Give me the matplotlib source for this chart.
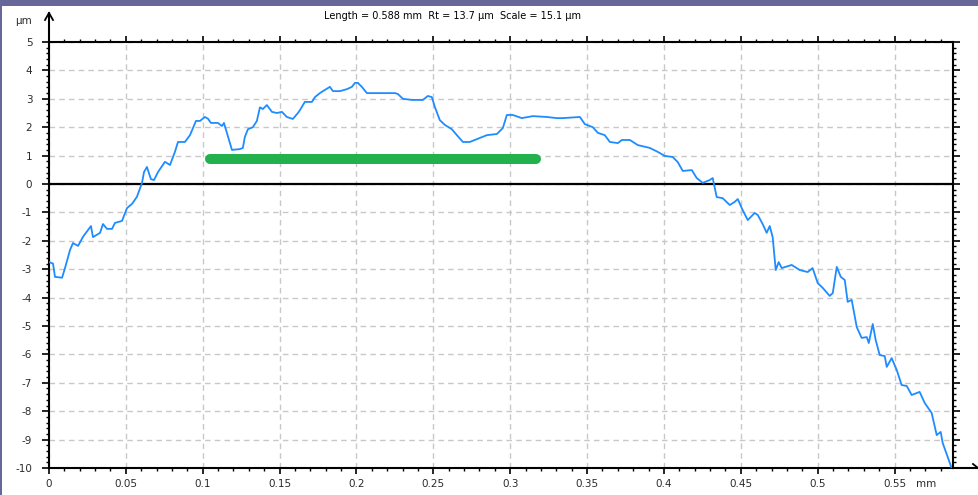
import numpy as np
import matplotlib
matplotlib.use("Agg")
import matplotlib.pyplot as plt
from matplotlib.ticker import MultipleLocator
from matplotlib.patches import Rectangle

plt.rcParams["axes.unicode_minus"] = False

# Profile (x in mm, height in um)
profile_x = [
    0.0000, 0.0026, 0.0039, 0.0085, 0.0104, 0.0137, 0.0156, 0.0189, 0.0221, 0.0254,
    0.0273, 0.0286, 0.0332, 0.0351, 0.0377, 0.0410, 0.0429, 0.0475, 0.0507, 0.0540,
    0.0572, 0.0605, 0.0618, 0.0637, 0.0663, 0.0683, 0.0709, 0.0754, 0.0787, 0.0819,
    0.0839, 0.0884, 0.0917, 0.0956, 0.0982, 0.1014, 0.1034, 0.1053, 0.1099, 0.1125,
    0.1138, 0.1157, 0.1177, 0.1190, 0.1242, 0.1261, 0.1274, 0.1294, 0.1326, 0.1352,
    0.1372, 0.1391, 0.1417, 0.1450, 0.1482, 0.1515, 0.1547, 0.1586, 0.1619, 0.1632,
    0.1664, 0.1710, 0.1730, 0.1762, 0.1782, 0.1827, 0.1847, 0.1892, 0.1938, 0.1970,
    0.1990, 0.2009, 0.2035, 0.2068, 0.2250, 0.2269, 0.2302, 0.2360, 0.2432, 0.2464,
    0.2490, 0.2510, 0.2542, 0.2575, 0.2620, 0.2653, 0.2692, 0.2737, 0.2802, 0.2848,
    0.2913, 0.2952, 0.2978, 0.3017, 0.3075, 0.3147, 0.3238, 0.3303, 0.3342, 0.3453,
    0.3485, 0.3537, 0.3570, 0.3615, 0.3648, 0.3700, 0.3726, 0.3778, 0.3830, 0.3908,
    0.3960, 0.4005, 0.4057, 0.4090, 0.4122, 0.4181, 0.4213, 0.4252, 0.4298, 0.4317,
    0.4343, 0.4382, 0.4428, 0.4460, 0.4480, 0.4512, 0.4545, 0.4590, 0.4610, 0.4642,
    0.4668, 0.4688, 0.4707, 0.4727, 0.4746, 0.4766, 0.4831, 0.4883, 0.4935, 0.4967,
    0.5000, 0.5033, 0.5078, 0.5098, 0.5124, 0.5150, 0.5176, 0.5195, 0.5221, 0.5254,
    0.5286, 0.5319, 0.5332, 0.5358, 0.5377, 0.5403, 0.5436, 0.5449, 0.5481, 0.5514,
    0.5546, 0.5579, 0.5611, 0.5663, 0.5696, 0.5741, 0.5774, 0.5800, 0.5813, 0.5871,
]
profile_z = [
    -2.75, -2.80, -3.27, -3.30, -2.96, -2.32, -2.08, -2.18, -1.86, -1.62,
    -1.48, -1.87, -1.72, -1.41, -1.58, -1.58, -1.37, -1.30, -0.85, -0.70,
    -0.45, 0.04, 0.42, 0.60, 0.17, 0.14, 0.42, 0.78, 0.67, 1.13,
    1.48, 1.48, 1.72, 2.22, 2.22, 2.36, 2.30, 2.15, 2.15, 2.04,
    2.15, 1.80, 1.44, 1.20, 1.23, 1.27, 1.66, 1.93, 2.00, 2.22,
    2.70, 2.64, 2.78, 2.54, 2.50, 2.54, 2.36, 2.29, 2.50, 2.60,
    2.89, 2.89, 3.06, 3.20, 3.27, 3.42, 3.27, 3.27, 3.34, 3.42,
    3.56, 3.56, 3.42, 3.20, 3.20, 3.17, 3.00, 2.96, 2.96, 3.10,
    3.06, 2.71, 2.25, 2.08, 1.93, 1.72, 1.48, 1.48, 1.62, 1.72,
    1.76, 1.97, 2.43, 2.43, 2.32, 2.39, 2.36, 2.32, 2.32, 2.36,
    2.11, 2.00, 1.80, 1.72, 1.48, 1.44, 1.55, 1.55, 1.37, 1.27,
    1.13, 0.99, 0.95, 0.77, 0.46, 0.49, 0.21, 0.04, 0.14, 0.21,
    -0.46, -0.50, -0.74, -0.63, -0.53, -0.92, -1.27, -1.02, -1.09, -1.41,
    -1.72, -1.48, -1.87, -3.03, -2.75, -2.96, -2.85, -3.03, -3.10, -2.96,
    -3.49, -3.66, -3.94, -3.84, -2.92, -3.27, -3.38, -4.15, -4.08, -5.04,
    -5.42, -5.39, -5.60, -4.93, -5.49, -6.02, -6.06, -6.44, -6.13, -6.55,
    -7.08, -7.11, -7.43, -7.32, -7.71, -8.06, -8.84, -8.73, -9.12, -10.00,
]

# Green reference segment
segment_x = [0.1047, 0.3166]
segment_z = [0.88, 0.88]

x_ticks = [0, 0.05, 0.1, 0.15, 0.2, 0.25, 0.3, 0.35, 0.4, 0.45, 0.5, 0.55]
x_tick_labels = ["0", "0.05", "0.1", "0.15", "0.2", "0.25", "0.3", "0.35",
                 "0.4", "0.45", "0.5", "0.55"]
y_ticks = list(range(-10, 6))

title = "Length = 0.588 mm  Rt = 13.7 \u00b5m  Scale = 15.1 \u00b5m"

W, H = 979, 495
fig = plt.figure(figsize=(W / 100, H / 100), dpi=100)
fig.patch.set_facecolor("white")
# purple frame bands (top and left)
border = "#67679a"
fig.add_artist(Rectangle((0, (H - 6) / H), 1, 6 / H, transform=fig.transFigure,
                         facecolor=border, edgecolor="none"))
fig.add_artist(Rectangle((0, 0), 2 / W, 1, transform=fig.transFigure,
                         facecolor=border, edgecolor="none"))

ax = fig.add_axes([49 / W, 27 / H, 904 / W, 426 / H])
txt_color = "#2b2b2b"

ax.plot(profile_x, profile_z, color="#1e8cff", lw=1.3, zorder=4)
ax.plot(segment_x, segment_z, color="#22b14c", lw=7.2, solid_capstyle="round", zorder=5)
ax.axhline(0, color="black", lw=1.6, zorder=3)

ax.set_xlim(0, 0.588)
ax.set_ylim(-10, 5)
ax.set_xticks(x_ticks)
ax.set_xticklabels(x_tick_labels)
ax.set_yticks(y_ticks)
ax.xaxis.set_minor_locator(MultipleLocator(0.01))
ax.yaxis.set_minor_locator(MultipleLocator(0.2))

ax.grid(True, which="major", color="#c8c8c8", lw=1.0, linestyle=(0, (4, 3)), zorder=1)
ax.set_axisbelow(True)

for s in ax.spines.values():
    s.set_linewidth(1.5)
    s.set_color("black")

ax.tick_params(which="both", direction="out", top=True, right=True,
               labeltop=False, labelright=False, colors="black",
               labelcolor=txt_color, labelsize=7.5)
ax.tick_params(axis="y", which="major", length=5, width=1.2, pad=7)
ax.tick_params(axis="y", which="minor", length=2.5, width=1)
ax.tick_params(axis="x", which="major", length=4, width=1.2, pad=4)
ax.tick_params(axis="x", which="minor", length=2.5, width=1)

# axis arrows and unit labels
fig.add_artist(plt.Line2D([49 / W, 49 / W], [(H - 42) / H, (H - 14) / H],
                          color="black", lw=1.5, transform=fig.transFigure))
fig.add_artist(plt.Line2D([49 / W, 45 / W], [(H - 13) / H, (H - 20) / H],
                          color="black", lw=1.3, transform=fig.transFigure))
fig.add_artist(plt.Line2D([49 / W, 53 / W], [(H - 13) / H, (H - 20) / H],
                          color="black", lw=1.3, transform=fig.transFigure))
fig.add_artist(plt.Line2D([953 / W, 979 / W], [27 / H, 27 / H],
                          color="black", lw=1.5, transform=fig.transFigure))
fig.add_artist(plt.Line2D([978 / W, 973 / W], [27 / H, 31 / H],
                          color="black", lw=1.3, transform=fig.transFigure))
fig.text(24 / W, (H - 21) / H, "\u00b5m", fontsize=7.5, color=txt_color,
         ha="center", va="center")
ax.text(0.5637, -0.0265, "mm", transform=ax.get_xaxis_transform(),
        fontsize=7.5, color=txt_color, ha="left", va="top")
fig.text(453 / W, (H - 16) / H, title, fontsize=7, color="black",
         ha="center", va="center")

fig.savefig("out.png", dpi=100)
